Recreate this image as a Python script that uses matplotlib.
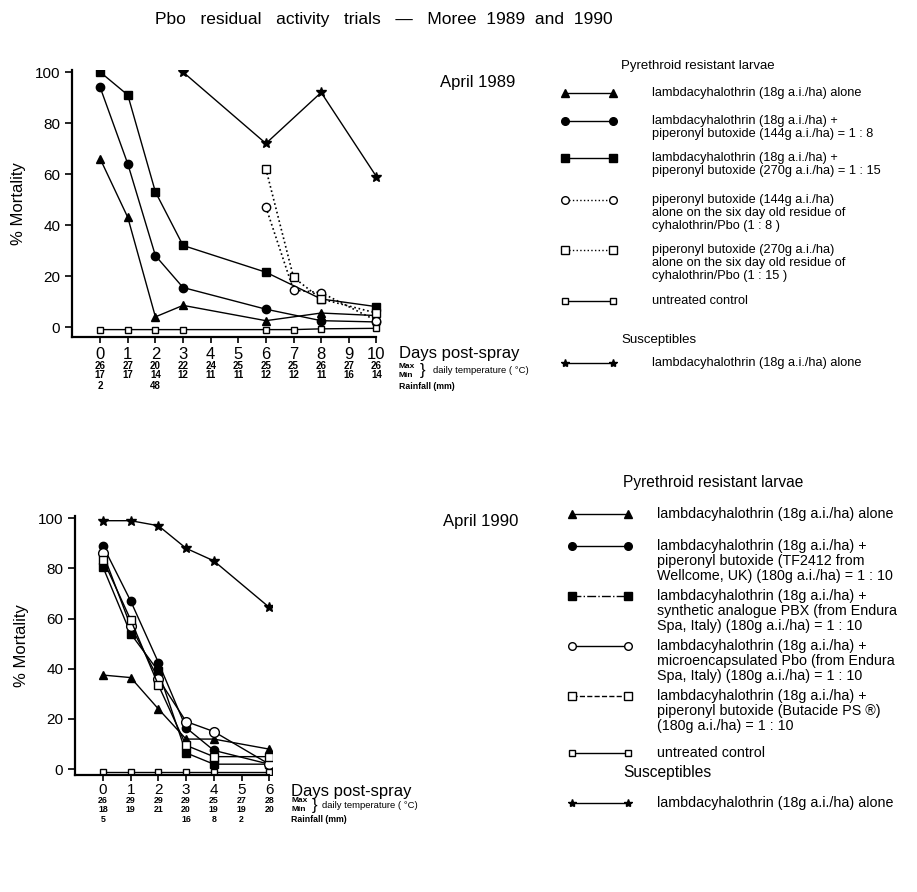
import matplotlib
matplotlib.use("Agg")
import matplotlib.pyplot as plt

plt.rcParams['font.family'] = ['Liberation Sans', 'DejaVu Sans']

# ================= Data: April 1989 =================
days89 = [0, 1, 2, 3, 6, 8, 10]
alone89 = [66, 43, 4, 8.5, 2.5, 5.5, 4.5]
pbo8_89 = [94, 64, 28, 15.5, 7, 2.5, 2]
pbo15_89 = [100, 91, 53, 32, 21.5, 11, 8]
res_days89 = [6, 7, 8, 10]
res8_89 = [47, 14.5, 13.5, 2.5]
res15_89 = [62, 19.5, 11, 5.5]
ctrl_days89 = [0, 1, 2, 3, 6, 7, 8, 10]
ctrl89 = [-1, -1, -1, -1, -1, -1, -0.7, -0.5]
sus_days89 = [3, 6, 8, 10]
sus89 = [100, 72, 92, 59]

ticks89 = list(range(11))
tmax89 = [26, 27, 20, 22, 24, 25, 25, 25, 26, 27, 26]
tmin89 = [17, 17, 14, 12, 11, 11, 12, 12, 11, 16, 14]
rain89 = {0: 2, 2: 48}

# ================= Data: April 1990 =================
days90 = [0, 1, 2, 3, 4, 6]
alone90 = [37.5, 36.5, 24, 12, 12, 8]
tf90 = [89, 67, 42.5, 16.5, 7.5, 2]
pbx90 = [80.5, 54, 39, 6.5, 2, 2]
micro90 = [86, 57, 36, 19, 15, 2]
buta90 = [83.5, 59.5, 33.5, 9.5, 5, 5]
ctrl90 = [-1, -1, -1, -1, -1, -1]
sus90 = [99, 99, 97, 88, 83, 64.5]

ticks90 = list(range(7))
tmax90 = [26, 29, 29, 29, 25, 27, 28]
tmin90 = [18, 19, 21, 20, 19, 19, 20]
rain90 = {0: 5, 3: 16, 4: 8, 5: 2}

legend89 = [
    ("^", "k", "-", ["lambdacyhalothrin (18g a.i./ha) alone"]),
    ("o", "k", "-", ["lambdacyhalothrin (18g a.i./ha) +",
                     "piperonyl butoxide (144g a.i./ha) = 1 : 8"]),
    ("s", "k", "-", ["lambdacyhalothrin (18g a.i./ha) +",
                     "piperonyl butoxide (270g a.i./ha) = 1 : 15"]),
    ("o", "w", ":", ["piperonyl butoxide (144g a.i./ha)",
                     "alone on the six day old residue of",
                     "cyhalothrin/Pbo (1 : 8 )"]),
    ("s", "w", ":", ["piperonyl butoxide (270g a.i./ha)",
                     "alone on the six day old residue of",
                     "cyhalothrin/Pbo (1 : 15 )"]),
    ("s", "w", "-", ["untreated control"]),
]
legend90 = [
    ("^", "k", "-", ["lambdacyhalothrin (18g a.i./ha) alone"]),
    ("o", "k", "-", ["lambdacyhalothrin (18g a.i./ha) +",
                     "piperonyl butoxide (TF2412 from",
                     "Wellcome, UK) (180g a.i./ha) = 1 : 10"]),
    ("s", "k", "-.", ["lambdacyhalothrin (18g a.i./ha) +",
                      "synthetic analogue PBX (from Endura",
                      "Spa, Italy) (180g a.i./ha) = 1 : 10"]),
    ("o", "w", "-", ["lambdacyhalothrin (18g a.i./ha) +",
                     "microencapsulated Pbo (from Endura",
                     "Spa, Italy) (180g a.i./ha) = 1 : 10"]),
    ("s", "w", "--", ["lambdacyhalothrin (18g a.i./ha) +",
                      "piperonyl butoxide (Butacide PS \u00ae)",
                      "(180g a.i./ha) = 1 : 10"]),
    ("s", "w", "-", ["untreated control"]),
]
sus_label = "lambdacyhalothrin (18g a.i./ha) alone"


def style_axes(ax, xmin, xmax, ticks, xsize, xpad):
    ax.set_xlim(xmin, xmax)
    ax.set_xticks(ticks)
    ax.set_yticks([0, 20, 40, 60, 80, 100])
    ax.spines['top'].set_visible(False)
    ax.spines['right'].set_visible(False)
    ax.spines['left'].set_linewidth(1.6)
    ax.spines['bottom'].set_linewidth(1.6)
    ax.spines['bottom'].set_bounds(xmin, ticks[-1])
    ax.tick_params(direction='out', length=5, width=1.2, labelsize=11)
    ax.tick_params(axis='x', labelsize=xsize, pad=xpad, length=4)
    ax.set_ylabel("% Mortality", fontsize=12, labelpad=6)


def weather(ax, ticks, tmax, tmin, rain, rows, label_x, fs, brace_dx, text_dx):
    tr = ax.get_xaxis_transform()
    for d, a, b in zip(ticks, tmax, tmin):
        ax.text(d, rows[0], str(a), transform=tr, ha='center', va='center', fontsize=fs, weight='bold')
        ax.text(d, rows[1], str(b), transform=tr, ha='center', va='center', fontsize=fs, weight='bold')
    for d, r in rain.items():
        ax.text(d, rows[2], str(r), transform=tr, ha='center', va='center', fontsize=fs, weight='bold')
    ax.text(label_x, rows[0], "Max", transform=tr, ha='left', va='center', fontsize=6, weight='bold')
    ax.text(label_x, rows[1], "Min", transform=tr, ha='left', va='center', fontsize=6, weight='bold')
    ax.text(label_x, rows[2], "Rainfall (mm)", transform=tr, ha='left', va='center', fontsize=6.3, weight='bold')
    ymid = (rows[0] + rows[1]) / 2
    ax.text(label_x + brace_dx, ymid, "}", transform=tr, ha='left', va='center', fontsize=12)
    ax.text(label_x + text_dx, ymid, "daily temperature ( \u00b0C)", transform=tr,
            ha='left', va='center', fontsize=6.8)


fig = plt.figure(figsize=(9.17, 8.92), dpi=100)

fig.text(0.419, 0.978, "Pbo   residual   activity   trials   \u2014   Moree  1989  and  1990",
         ha='center', va='center', fontsize=12.5)

# ---------- April 1989 ----------
ax1 = fig.add_axes([0.0785, 0.6222, 0.338, 0.2993])
ms = 6
ax1.plot(days89, alone89, '-^', color='k', ms=ms, lw=1)
ax1.plot(days89, pbo8_89, '-o', color='k', ms=ms, lw=1)
ax1.plot(days89, pbo15_89, '-s', color='k', ms=ms, lw=1)
ax1.plot(res_days89, res8_89, ':o', color='k', mfc='w', ms=ms, lw=1.2)
ax1.plot(res_days89, res15_89, ':s', color='k', mfc='w', ms=ms, lw=1.2)
ax1.plot(ctrl_days89, ctrl89, '-s', color='k', mfc='w', ms=4, lw=1)
ax1.plot(sus_days89, sus89, '-*', color='k', ms=7, lw=1)
ax1.set_ylim(-3.9, 100.8)
style_axes(ax1, -1.02, 10.2, ticks89, 12, 3)
ax1.text(10.8, -0.06, "Days post-spray", transform=ax1.get_xaxis_transform(), ha='left', va='center', fontsize=12)
weather(ax1, ticks89, tmax89, tmin89, rain89, [-0.109, -0.144, -0.184], 10.8, 7, 0.78, 1.25)
fig.text(0.48, 0.908, "April 1989", ha='left', va='center', fontsize=12)

# ---------- April 1990 ----------
ax2 = fig.add_axes([0.0818, 0.1312, 0.2148, 0.2904])
ax2.plot(days90, alone90, '-^', color='k', ms=ms, lw=1)
ax2.plot(days90, tf90, '-o', color='k', ms=ms, lw=1)
ax2.plot(days90, pbx90, '-s', color='k', ms=ms, lw=1)
ax2.plot(days90, micro90, '-o', color='k', mfc='w', ms=7, lw=1)
ax2.plot(days90, buta90, '-s', color='k', mfc='w', ms=6, lw=1)
ax2.plot(days90, ctrl90, '-s', color='k', mfc='w', ms=4, lw=1)
ax2.plot(days90, sus90, '-*', color='k', ms=7, lw=1)
ax2.set_ylim(-2.3, 100.9)
style_axes(ax2, -1.01, 6.1, ticks90, 11, 1.5)
ax2.text(6.8, -0.062, "Days post-spray", transform=ax2.get_xaxis_transform(), ha='left', va='center', fontsize=12)
weather(ax2, ticks90, tmax90, tmin90, rain90, [-0.099, -0.134, -0.172], 6.8, 6.3, 0.72, 1.1)
fig.text(0.483, 0.415, "April 1990", ha='left', va='center', fontsize=12)

# ---------- hand-drawn legends (pixel coordinates) ----------
lg = fig.add_axes([0, 0, 1, 1])
lg.set_xlim(0, 917)
lg.set_ylim(892, 0)
lg.axis('off')


def legend_block(entries, heading_y, entry_ys, x0, x1, tx, hx, sus_head_y, sus_y, line_h, fs, hfs):
    lg.text(hx, heading_y, "Pyrethroid resistant larvae", ha='left', va='center', fontsize=hfs)
    for (mk, fc, ls, lines), y in zip(entries, entry_ys):
        size = 4 if lines[0] == "untreated control" else 5.5
        lg.plot([x0, x1], [y, y], ls=ls, color='k', lw=1, marker=mk, mfc=fc, mec='k', ms=size)
        for i, t in enumerate(lines):
            lg.text(tx, y + i * line_h, t, ha='left', va='center', fontsize=fs)
    lg.text(hx, sus_head_y, "Susceptibles", ha='left', va='center', fontsize=hfs)
    lg.plot([x0, x1], [sus_y, sus_y], '-', color='k', lw=1, marker='*', ms=6)
    lg.text(tx, sus_y, sus_label, ha='left', va='center', fontsize=fs)


legend_block(legend89, 66, [93, 121, 158, 200, 250, 301], 565, 613, 652, 621, 340, 363, 13, 9.2, 9.5)
legend_block(legend90, 483, [514, 546, 596, 646, 696, 753], 572, 628, 657, 623, 773, 803, 15, 10.3, 11.2)

fig.savefig("out.png", dpi=100)
